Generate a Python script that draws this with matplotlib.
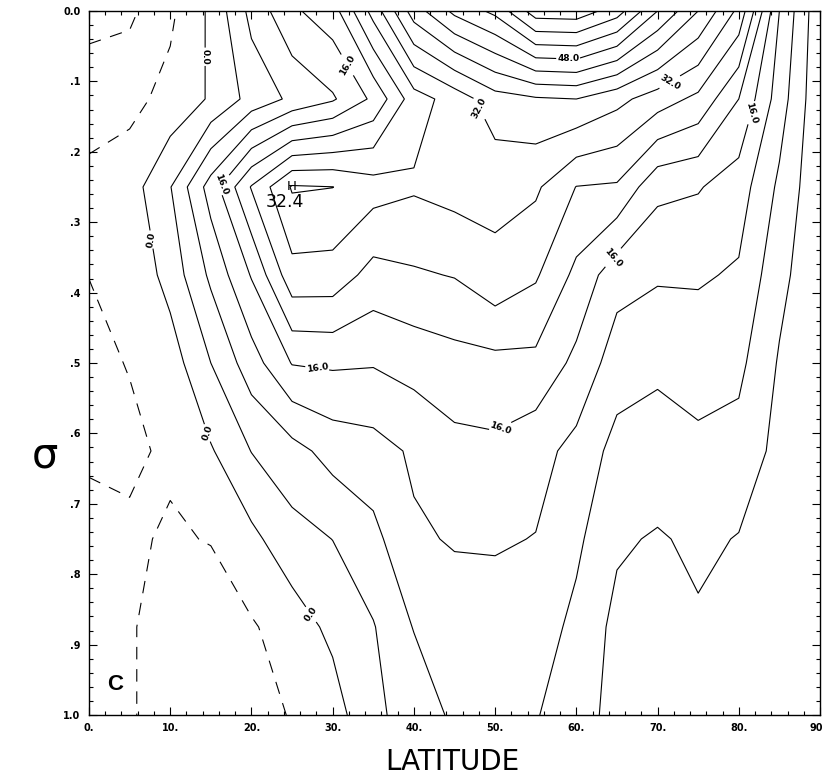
import numpy as np
import matplotlib
matplotlib.use("Agg")
import matplotlib.pyplot as plt
from matplotlib.transforms import ScaledTranslation

# Zonal-mean zonal wind (m/s) on a 5-degree latitude x 0.125 sigma grid
lat = [0, 5, 10, 15, 20, 25, 30, 35, 40, 45, 50, 55, 60, 65, 70, 75, 80, 85, 90]
sigma = [0.0, 0.125, 0.25, 0.375, 0.5, 0.625, 0.75, 0.875, 1.0]

u_s000 = [-10.1, -8.8, -4.8, 0.78, 9.2, 15.3, 18.2, 29.5, 42, 49, 53, 62.2, 62.5, 57.9, 48, 40, 31, 12, 1]
u_s125 = [-4.5, -5.1, -2.8, 0.46, 5.38, 8.83, 11.5, 16.8, 26.2, 29.7, 34.3, 35.5, 36, 33.2, 30, 27, 20, 10, 0.8]
u_s250 = [-3.7, -1.87, 3.8, 13.8, 24.3, 32.4, 32.05, 29.76, 28.5, 29.5, 29.3, 28.66, 23.9, 23.5, 17, 16.3, 14, 7.2, 0.8]
u_s375 = [-3.97, -3.2, 1.5, 8.8, 16.3, 26.6, 26.4, 22.5, 23.5, 24.2, 26.8, 24.5, 19, 13.5, 12.5, 12.5, 11.5, 5.2, 0.8]
u_s500 = [-4.6, -3.89, -2, 4, 10.2, 16.2, 16.6, 16.3, 17.5, 18.5, 18.85, 19, 15, 10, 8.6, 9.5, 9, 3.6, 0.8]
u_s625 = [-4.3, -4.5, -3.55, -0.39, 4.1, 6.57, 9.5, 10.46, 12.57, 14.8, 15.14, 13.4, 10.8, 6.6, 6.6, 7.2, 6.5, 2.8, 0.8]
u_s750 = [-3.3, -3.55, -4.35, -3.85, -1, 2.55, 4.05, 6.84, 11.47, 12.3, 12.4, 11.88, 8.8, 4.6, 3.6, 4.8, 3.8, 2.3, 0.8]
u_s875 = [-3.0, -3.7, -5.4, -5.8, -4.4, -2.14, 1.01, 3.75, 8.2, 10.2, 10.3, 10, 7, 2.9, 3, 3.5, 2.5, 2, 0.8]
u_s1000 = [-3.0, -3.7, -5.4, -6, -4.6, -3.9, -1.93, 3.43, 5.1, 8.9, 9.5, 8.3, 5.3, 3.0, 2.6, 2.5, 2, 2, 0.8]

levels = list(range(-8, 64, 4))
labeled_levels = [0, 16, 32, 48]

max_value = 32.4
max_lat, max_sigma = 25, 0.25

xticks = [0, 10, 20, 30, 40, 50, 60, 70, 80, 90]
xticklabels = ["0.", "10.", "20.", "30.", "40.", "50.", "60.", "70.", "80.", "90"]
yticks = [0.0, 0.1, 0.2, 0.3, 0.4, 0.5, 0.6, 0.7, 0.8, 0.9, 1.0]
yticklabels = ["0.0", ".1", ".2", ".3", ".4", ".5", ".6", ".7", ".8", ".9", "1.0"]

U = np.array([u_s000, u_s125, u_s250, u_s375, u_s500, u_s625, u_s750, u_s875, u_s1000])

plt.rcParams["lines.scale_dashes"] = False

W, H = 825, 779
fig = plt.figure(figsize=(W / 100, H / 100), dpi=100)
x0, x1, y0, y1 = 89, 820, 11, 715
ax = fig.add_axes([x0 / W, 1 - y1 / H, (x1 - x0) / W, (y1 - y0) / H])

plain_levels = [v for v in levels if v not in labeled_levels]
dash = (0, (9, 7))
ax.contour(lat, sigma, U, levels=plain_levels, colors="black", linewidths=0.8,
           linestyles=["solid" if v >= 0 else dash for v in plain_levels])
cs_lab = ax.contour(lat, sigma, U, levels=labeled_levels, colors="black",
                    linewidths=0.8, linestyles="solid")

label_spots = [
    (14.3, 0.065), (7.5, 0.325), (14.9, 0.598), (27.6, 0.855),
    (31.3, 0.08), (16.7, 0.25), (28.2, 0.499), (50.6, 0.591),
    (64.2, 0.347), (81.7, 0.145),
    (48.5, 0.136), (71.2, 0.095),
    (59.0, 0.067),
]
texts = ax.clabel(cs_lab, fmt="%.1f", fontsize=6.5, inline=True,
                  inline_spacing=2, manual=label_spots)
for t in texts:
    t.set_fontweight("bold")

ax.text(max_lat, max_sigma, "H", ha="center", va="center", fontsize=9.5)
ax.text(max_lat - 0.9, max_sigma + 0.022, f"{max_value:.1f}", ha="center",
        va="center", fontsize=12.5)

ax.set_xlim(0, 90)
ax.set_ylim(1.0, 0.0)

ax.set_xticks(xticks)
ax.set_xticklabels(xticklabels, fontsize=7, fontweight="bold")
ax.set_xticks(np.arange(0, 91, 2), minor=True)
ax.set_yticks(yticks)
ax.set_yticklabels(yticklabels, fontsize=7, fontweight="bold")
ax.set_yticks(np.arange(0, 1.001, 0.02), minor=True)
ax.tick_params(which="both", direction="in", top=True, right=True,
               width=0.8, colors="black")
ax.tick_params(which="major", length=6, pad=6)
ax.tick_params(which="minor", length=3)
for s in ax.spines.values():
    s.set_linewidth(1.0)

# keep the last latitude label inside the figure edge
last = ax.get_xticklabels()[-1]
last.set_transform(last.get_transform() + ScaledTranslation(-4 / 100, 0, fig.dpi_scale_trans))

fig.text(45 / W, 1 - 455 / H, "σ", fontsize=30, ha="center", va="center")
fig.text(452 / W, 1 - 762 / H, "LATITUDE", fontsize=20, ha="center",
         va="center", family="Liberation Sans Narrow")
ax.text(3.2, 0.957, "C", fontsize=16, fontweight="bold", ha="center",
        va="center", family="Liberation Sans")

fig.savefig("out.png", dpi=100)
